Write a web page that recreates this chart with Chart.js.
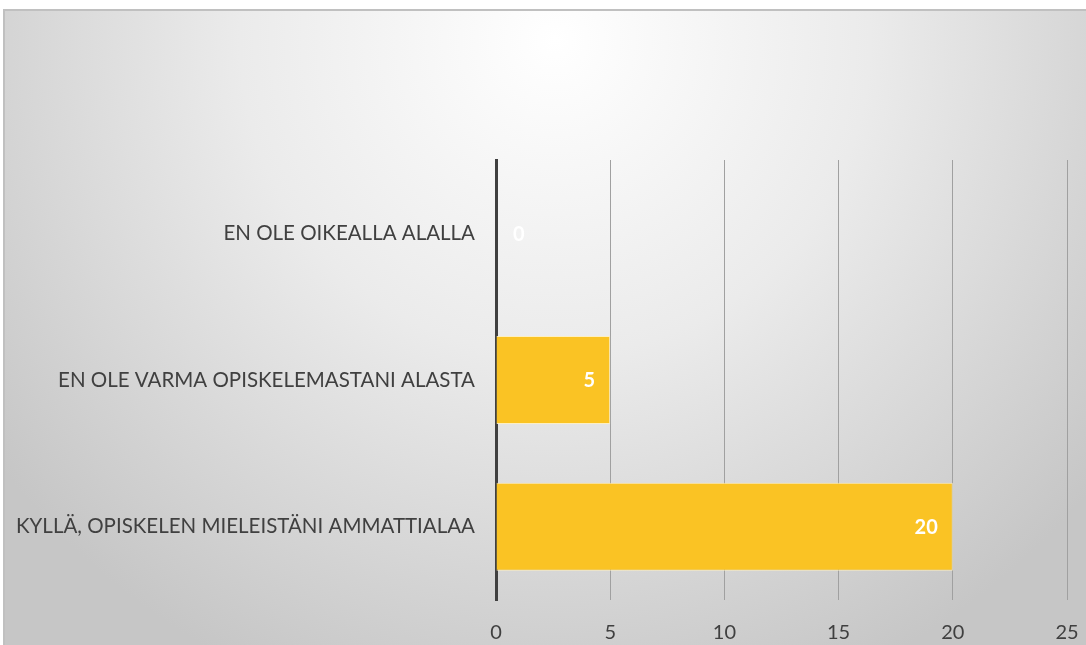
<!DOCTYPE html>
<html>
<head>
<meta charset="utf-8">
<script src="https://cdn.jsdelivr.net/npm/chart.js@4.4.0/dist/chart.umd.min.js"></script>
<style>
  html, body { margin: 0; padding: 0; background: #ffffff; }
  #wrap { position: absolute; left: 0; top: 0; width: 1086px; height: 645px; }
</style>
</head>
<body>
<div id="wrap"><canvas id="chart-alala" width="1086" height="645"></canvas></div>
<script>
// Data
const categories = [
    "EN OLE OIKEALLA ALALLA",
    "EN OLE VARMA OPISKELEMASTANI ALASTA",
    "KYLLÄ, OPISKELEN MIELEISTÄNI AMMATTIALAA",
];
const answers = [0, 5, 20];
const tickValues = [0, 5, 10, 15, 20, 25];

const alala = document.getElementById("chart-alala");
const FONT = "Lato, 'Open Sans', sans-serif";

// Background box with soft radial shading
const backgroundBox = {
    id: "backgroundBox",
    beforeDraw(chart) {
        const ctx = chart.ctx;
        const x = 4, y = 10, w = 1100, h = 660;
        ctx.save();
        const g = ctx.createRadialGradient(555, 40, 0, 555, 40, 700);
        g.addColorStop(0, "#ffffff");
        g.addColorStop(0.45, "#ebebeb");
        g.addColorStop(1, "#c6c6c6");
        ctx.fillStyle = g;
        ctx.fillRect(x, y, w, h);
        ctx.strokeStyle = "#c0c0c0";
        ctx.lineWidth = 2;
        ctx.strokeRect(x, y, w, h);
        ctx.restore();
    },
};

// Value labels, white bold, inside end
const valueLabels = {
    id: "valueLabels",
    afterDatasetsDraw(chart) {
        const ctx = chart.ctx;
        const meta = chart.getDatasetMeta(0);
        ctx.save();
        ctx.font = "bold 20px " + FONT;
        ctx.fillStyle = "#ffffff";
        ctx.textBaseline = "middle";
        meta.data.forEach((bar, i) => {
            const text = String(answers[i]);
            const w = ctx.measureText(text).width;
            let right = bar.x - 15;
            if (right - w < bar.base + 17) right = bar.base + 17 + w;
            ctx.textAlign = "right";
            ctx.fillText(text, right, bar.y + 1);
        });
        ctx.restore();
    },
};

new Chart(alala, {
    type: "bar",
    data: {
        labels: categories,
        datasets: [
            {
                data: answers,
                backgroundColor: "#fac324",
                borderColor: "rgba(255,240,190,0.9)",
                borderWidth: 1,
                borderSkipped: "start",
                categoryPercentage: 0.6,
                barPercentage: 1,
            },
        ],
    },
    options: {
        indexAxis: "y",
        responsive: false,
        animation: false,
        layout: {
            padding: { top: 160, right: 19, left: 0, bottom: 0 },
        },
        scales: {
            x: {
                min: 0,
                max: 25,
                afterBuildTicks(axis) {
                    axis.ticks = tickValues.map((v) => ({ value: v }));
                },
                afterFit(axis) {
                    axis.height = 45;
                    axis.paddingLeft = 0;
                    axis.paddingRight = 0;
                },
                grid: {
                    color: (c) => (c.tick && c.tick.value === 0 ? "rgba(0,0,0,0)" : "#a0a0a0"),
                    lineWidth: 1,
                    drawTicks: false,
                },
                border: { display: false },
                ticks: {
                    color: "#404040",
                    font: { family: FONT, size: 20 },
                    padding: 21,
                },
            },
            y: {
                afterFit(axis) {
                    axis.width = 496;
                    axis.paddingTop = 0;
                    axis.paddingBottom = 0;
                },
                grid: { display: false, drawTicks: false },
                border: { display: true, color: "#404040", width: 3 },
                ticks: {
                    color: "#404040",
                    font: { family: FONT, size: 20.5 },
                    padding: 21,
                },
            },
        },
        plugins: {
            legend: { display: false },
            tooltip: { enabled: false },
            title: { display: false },
        },
    },
    plugins: [backgroundBox, valueLabels],
});
</script>
</body>
</html>
